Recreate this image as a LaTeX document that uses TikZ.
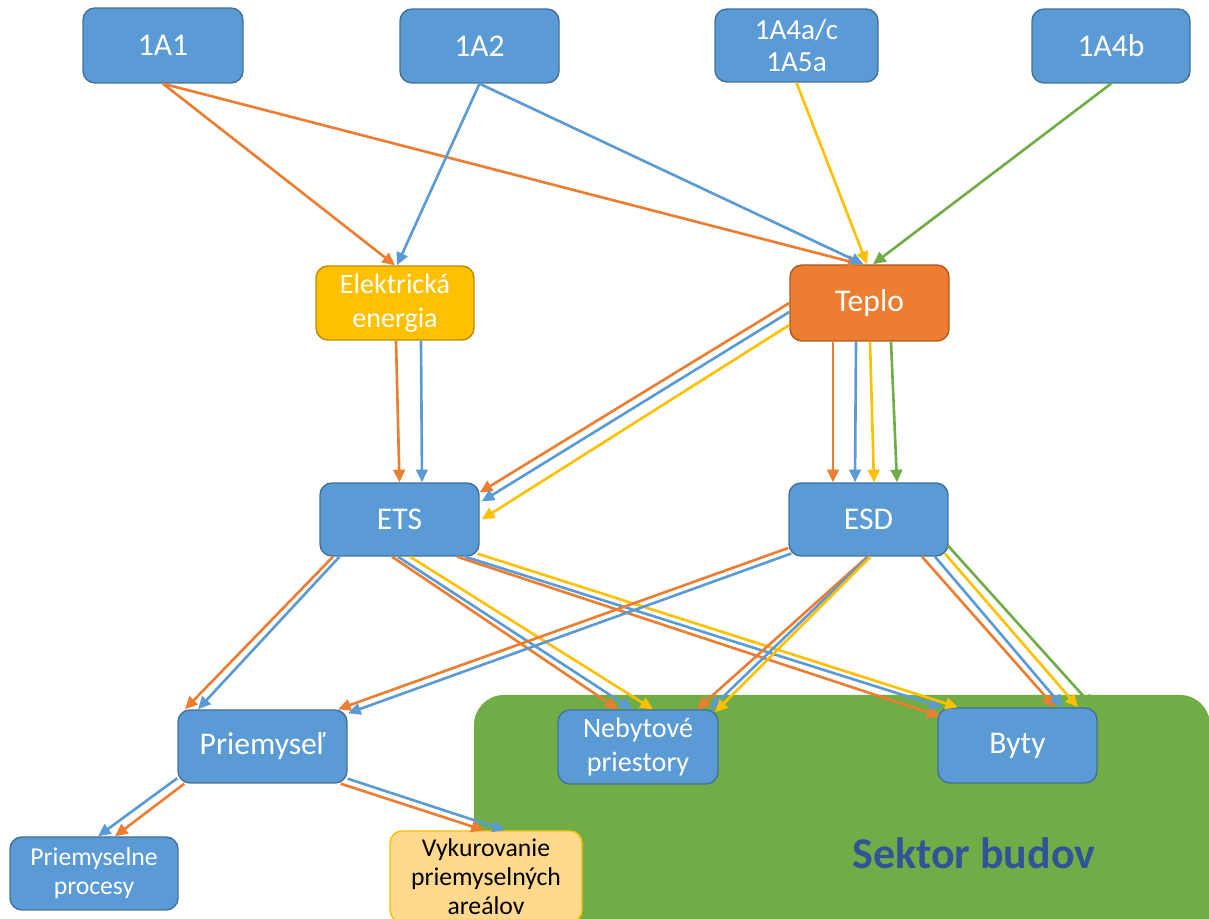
\documentclass[tikz,border=0pt]{standalone}
\usepackage{fontspec}
\setmainfont{Carlito}
\usetikzlibrary{arrows.meta}
\newcommand{\bigtxt}{\fontsize{9}{10}\selectfont}
\newcommand{\midtxt}{\fontsize{8}{9.6}\selectfont}
\newcommand{\smalltxt}{\fontsize{7.3}{8.3}\selectfont}

\begin{document}
\begin{tikzpicture}[
		box/.style={draw=boxline,fill=boxblue,text=white,rounded corners=0.12cm,line width=0.4pt,inner sep=0pt,align=center},
		arr/.style={line width=0.75pt,-{Triangle[length=3.6pt,width=3.3pt]}}]
					\definecolor{boxblue}{HTML}{5B9BD5}
					\definecolor{boxline}{HTML}{41719C}
					\definecolor{heatorange}{HTML}{ED7D31}
					\definecolor{heatline}{HTML}{AE5A21}
					\definecolor{elyellow}{HTML}{FFC000}
					\definecolor{elline}{HTML}{BC8C00}
					\definecolor{lightorange}{HTML}{FFD98E}
					\definecolor{sectorgreen}{HTML}{70AD47}
					\definecolor{darkblue}{HTML}{2F5597}
					
					\useasboundingbox (0,0) rectangle (12.09,-9.19);
					\clip (0,0) rectangle (12.09,-9.19);
					
					% sector area
					\fill[sectorgreen,rounded corners=0.3cm] (4.74,-6.95) rectangle (12.10,-9.45);
					\node[text=darkblue,font=\fontsize{12.5}{15}\selectfont\bfseries] (sektor) at (9.74,-8.53) {Sektor budov};
					
					% sources
					\node[box,minimum width=1.60cm,minimum height=0.75cm,font=\bigtxt] (a1) at (1.63,-0.455) {1A1};
					\node[box,minimum width=1.59cm,minimum height=0.74cm,font=\bigtxt] (a2) at (4.795,-0.46) {1A2};
					\node[box,minimum width=1.63cm,minimum height=0.73cm,font=\fontsize{8.3}{9.2}\selectfont] (a4ac) at (7.965,-0.455) {1A4a/c\\1A5a};
					\node[box,minimum width=1.58cm,minimum height=0.74cm,font=\bigtxt] (a4b) at (11.11,-0.46) {1A4b};
					
					% energy carriers
					\node[box,draw=elline,fill=elyellow,minimum width=1.58cm,minimum height=0.74cm,font=\midtxt] (el) at (3.95,-3.03) {Elektrická\\energia};
					\node[box,draw=heatline,fill=heatorange,minimum width=1.59cm,minimum height=0.76cm,font=\bigtxt] (tep) at (8.695,-3.03) {Teplo};
					
					% systems
					\node[box,minimum width=1.59cm,minimum height=0.73cm,font=\bigtxt] (ets) at (3.995,-5.195) {ETS};
					\node[box,minimum width=1.59cm,minimum height=0.73cm,font=\bigtxt] (esd) at (8.685,-5.195) {ESD};
					
					% consumers
					\node[box,minimum width=1.69cm,minimum height=0.73cm,font=\bigtxt] (prm) at (2.625,-7.465) {Priemyseľ};
					\node[box,minimum width=1.60cm,minimum height=0.74cm,font=\midtxt] (neb) at (6.38,-7.47) {Nebytové\\priestory};
					\node[box,minimum width=1.59cm,minimum height=0.75cm,font=\bigtxt] (byt) at (10.175,-7.455) {Byty};
					\node[box,minimum width=1.68cm,minimum height=0.73cm,font=\smalltxt] (pp) at (0.94,-8.735) {Priemyselne\\procesy};
					\node[box,draw=elyellow,fill=lightorange,text=black,minimum width=1.92cm,minimum height=0.91cm,font=\smalltxt] (vyk) at (4.86,-8.765) {Vykurovanie\\priemyselných\\areálov};
					
					% sources -> carriers
					\draw[arr,heatorange] (a1.south) -- (el.north);
					\draw[arr,heatorange] (a1.south) -- ([xshift=-0.09cm]tep.north);
					\draw[arr,boxblue] (a2.south) -- ([xshift=0.02cm]el.north);
					\draw[arr,boxblue] (a2.south) -- ([xshift=-0.06cm]tep.north);
					\draw[arr,elyellow] (a4ac.south) -- ([xshift=-0.025cm]tep.north);
					\draw[arr,sectorgreen] (a4b.south) -- ([xshift=0.035cm]tep.north);
					
					% carriers -> systems
					\draw[arr,heatorange] ([xshift=0.01cm]el.south) -- (ets.north);
					\draw[arr,boxblue] ([xshift=0.26cm]el.south) -- ([xshift=0.225cm]ets.north);
					\draw[arr,heatorange] (tep.west) -- ([yshift=0.27cm]ets.east);
					\draw[arr,boxblue] ([yshift=-0.09cm]tep.west) -- ([shift={(0.02,0.18)}]ets.east);
					\draw[arr,elyellow] ([yshift=-0.22cm]tep.west) -- ([xshift=0.02cm]ets.east);
					\draw[arr,heatorange] ([xshift=-0.365cm]tep.south) -- ([xshift=-0.355cm]esd.north);
					\draw[arr,boxblue] ([xshift=-0.135cm]tep.south) -- ([xshift=-0.135cm]esd.north);
					\draw[arr,elyellow] ([xshift=0.005cm]tep.south) -- ([xshift=0.055cm]esd.north);
					\draw[arr,sectorgreen] ([xshift=0.215cm]tep.south) -- ([xshift=0.285cm]esd.north);
					
					% ETS -> consumers
					\draw[arr,heatorange] ([xshift=-0.665cm]ets.south) -- ([xshift=-0.775cm]prm.north);
					\draw[arr,boxblue] ([xshift=-0.60cm]ets.south) -- ([xshift=-0.645cm]prm.north);
					\draw[arr,heatorange] ([xshift=-0.075cm]ets.south) -- ([xshift=-0.20cm]neb.north);
					\draw[arr,boxblue] ([xshift=-0.015cm]ets.south) -- ([xshift=-0.06cm]neb.north);
					\draw[arr,elyellow] ([xshift=0.105cm]ets.south) -- ([xshift=0.15cm]neb.north);
					\draw[arr,heatorange] ([xshift=0.575cm]ets.south) -- ([shift={(-0.775,-0.09)}]byt.north);
					\draw[arr,boxblue] ([xshift=0.655cm]ets.south) -- ([xshift=-0.755cm]byt.north);
					\draw[arr,elyellow] ([shift={(0.78,0.03)}]ets.south) -- ([xshift=-0.595cm]byt.north);
					
					% ESD -> consumers
					\draw[arr,heatorange] ([yshift=-0.285cm]esd.west) -- ([xshift=0.755cm]prm.north);
					\draw[arr,boxblue] ([shift={(0.03,-0.34)}]esd.west) -- ([shift={(0.855,-0.04)}]prm.north);
					\draw[arr,heatorange] ([xshift=-0.01cm]esd.south) -- ([xshift=0.59cm]neb.north);
					\draw[arr,boxblue] (esd.south) -- ([xshift=0.72cm]neb.north);
					\draw[arr,elyellow] ([xshift=0.02cm]esd.south) -- ([shift={(0.77,-0.03)}]neb.north);
					\draw[arr,heatorange] ([xshift=0.535cm]esd.south) -- ([xshift=0.375cm]byt.north);
					\draw[arr,boxblue] ([xshift=0.665cm]esd.south) -- ([xshift=0.455cm]byt.north);
					\draw[arr,elyellow] ([shift={(0.765,0.03)}]esd.south) -- ([xshift=0.605cm]byt.north);
					\draw[arr,sectorgreen] ([shift={(0.795,0.11)}]esd.south) -- ([xshift=0.76cm]byt.north);
					
					% industry split
					\draw[arr,boxblue] ([yshift=0.055cm]prm.south west) -- ([xshift=0.04cm]pp.north);
					\draw[arr,heatorange] ([xshift=0.07cm]prm.south west) -- ([xshift=0.21cm]pp.north);
					\draw[arr,boxblue] ([yshift=0.05cm]prm.south east) -- ([xshift=0.19cm]vyk.north);
					\draw[arr,heatorange] ([xshift=-0.07cm]prm.south east) -- ([xshift=-0.02cm]vyk.north);
				\end{tikzpicture}
\end{document}
